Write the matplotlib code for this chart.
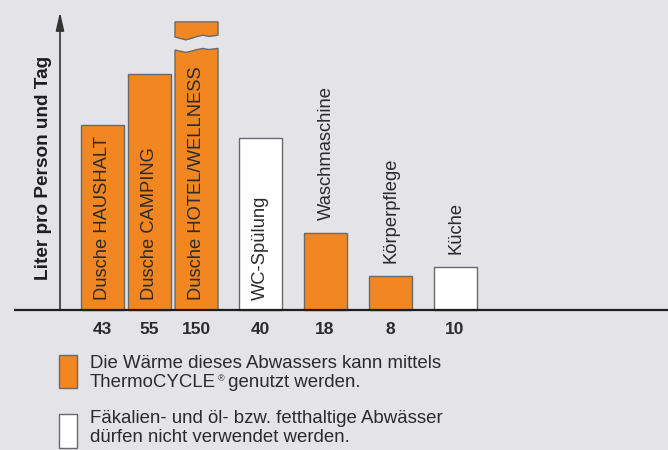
import matplotlib
matplotlib.use('Agg')
import matplotlib.pyplot as plt
from matplotlib.patches import Polygon, Rectangle
import numpy as np

plt.rcParams['font.family'] = ['Liberation Sans', 'DejaVu Sans']

# data
labels = ['Dusche HAUSHALT', 'Dusche CAMPING', 'Dusche HOTEL/WELLNESS',
          'WC-Spülung', 'Waschmaschine', 'Körperpflege', 'Küche']
values = [43, 55, 150, 40, 18, 8, 10]
usable = [True, True, True, False, True, True, False]
label_inside = [True, True, True, True, False, False, False]
legend_lines = [['Die Wärme dieses Abwassers kann mittels',
                 'ThermoCYCLE', ' genutzt werden.'],
                ['Fäkalien- und öl- bzw. fetthaltige Abwässer',
                 'dürfen nicht verwendet werden.']]
ylabel = 'Liter pro Person und Tag'

# layout (x in pixels, y in litres)
centers = [102.5, 149.5, 196.5, 260.5, 325, 390, 455]
width = 43
ppu = 4.3            # pixels per litre
base_px = 310
cap = 67             # broken bar top (litres)

ORANGE = '#f28722'
BG = '#e3e3e8'
EDGE = '#6a6a6a'
TXT = '#2b2b2b'


def py(p):
    # pixel row -> data y
    return (base_px - p) / ppu


fig = plt.figure(figsize=(6.68, 4.5), dpi=100, facecolor=BG)
ax = fig.add_axes([0, 0, 1, 1])
ax.set_facecolor(BG)
ax.set_xlim(0, 668)
ax.set_ylim(py(450), py(0))
ax.axis('off')

for c, v, u, lab, ins in zip(centers, values, usable, labels, label_inside):
    fc = ORANGE if u else 'white'
    x0, x1 = c - width / 2, c + width / 2
    if v > cap:
        # broken bar
        fr = np.array([0, 0.12, 0.25, 0.38, 0.52, 0.65, 0.78, 0.9, 1.0])
        wv = np.array([0, 1.2, 2.4, 1.2, -0.5, -1.5, -0.5, -1.0, -1.6]) / ppu
        xs = x0 + fr * width
        low_top = py(50) - wv
        low = [(x0, 0)] + list(zip(xs, low_top)) + [(x1, 0)]
        ax.add_patch(Polygon(low, closed=True, fc=fc, ec=EDGE, lw=1, zorder=2))
        up_bot = py(37) - wv * 1.2
        up = [(x0, cap)] + list(zip(xs, up_bot)) + [(x1, cap)]
        ax.add_patch(Polygon(up, closed=True, fc=fc, ec=EDGE, lw=1, zorder=2))
    else:
        ax.add_patch(Rectangle((x0, 0), width, v, fc=fc, ec=EDGE, lw=1, zorder=2))
    if ins:
        ax.text(c, py(300), lab, rotation=90, ha='center', va='bottom',
                fontsize=13.2, color=TXT, zorder=3)
    else:
        ax.text(c + 1, v + 13 / ppu, lab, rotation=90, ha='center', va='bottom',
                fontsize=13.2, color=TXT, zorder=3)
    ax.text(c, py(330), str(v), ha='center', va='center', fontsize=12.5,
            fontweight='bold', color=TXT)

# axes lines
ax.plot([14, 668], [0, 0], color='#1e1e1e', lw=1.6, zorder=4, solid_capstyle='butt')
ax.annotate('', xy=(60, py(12)), xytext=(60, 0),
            arrowprops=dict(arrowstyle='-|>,head_length=1.1,head_width=0.25',
                            color='#333333', lw=1.2, shrinkA=0, shrinkB=0))
ax.text(44, py(168), ylabel, rotation=90, ha='center', va='center',
        fontsize=13.7, fontweight='bold', color='#1e1e1e')

# legend
ax.add_patch(Rectangle((59, py(388)), 18, 33 / ppu, fc=ORANGE, ec=EDGE, lw=1))
ax.add_patch(Rectangle((59, py(448)), 18, 34 / ppu, fc='white', ec=EDGE, lw=1))
ax.text(90, py(368), legend_lines[0][0], fontsize=13.4, color=TXT, va='baseline')
t2 = ax.text(90, py(387), legend_lines[0][1], fontsize=13.4, color=TXT, va='baseline')
ax.annotate('®', xy=(1, 0), xycoords=t2, xytext=(1, 5.5),
            textcoords='offset points', fontsize=6.5, color=TXT, va='bottom')
ax.annotate(legend_lines[0][2], xy=(1, 0), xycoords=t2, xytext=(5, 0),
            textcoords='offset points', fontsize=13.4, color=TXT, va='bottom')
ax.text(90, py(423), legend_lines[1][0], fontsize=13.4, color=TXT, va='baseline')
ax.text(90, py(442), legend_lines[1][1], fontsize=13.4, color=TXT, va='baseline')

fig.savefig('out.png', dpi=100, facecolor=BG)
